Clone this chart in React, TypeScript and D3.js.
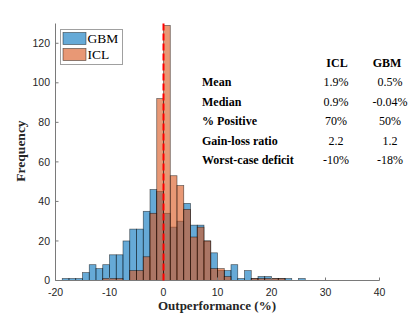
import React, { useEffect, useRef } from 'react';
import * as d3 from 'd3';

// histogram bins: left edges from -18.75 to 28.75, width 1.25
const binWidth = 1.25;
const binStarts = d3.range(-18.75, 29, binWidth);

const gbmCounts = [1, 1, 1, 4, 8, 6, 8, 13, 13, 20, 26, 26, 35, 46, 45, 34, 27, 30, 39, 28, 28, 20, 14, 5, 5, 8, 1, 5, 1, 2, 2, 1, 1, 1, 0, 1, 0, 0, 0];
const iclCounts = [0, 0, 0, 0, 0, 0, 1, 1, 1, 0, 5, 5, 12, 34, 92, 129, 53, 48, 36, 22, 27, 20, 6, 6, 2, 0, 0, 0, 1, 1, 1, 1, 1, 0, 0, 0, 0, 0, 0];

const xTicks = [-20, -10, 0, 10, 20, 30, 40];
const yTicks = [0, 20, 40, 60, 80, 100, 120];

const rowLabels = ['Mean', 'Median', '% Positive', 'Gain-loss ratio', 'Worst-case deficit'];
const iclStats = ['1.9%', '0.9%', '70%', '2.2', '-10%'];
const gbmStats = ['0.5%', '-0.04%', '50%', '1.2', '-18%'];

const serif = '"Liberation Serif", "DejaVu Serif", serif';
const sans = '"Liberation Sans", Arial, sans-serif';

const Chart = () => {
  const chartRef = useRef<HTMLDivElement>(null);

  useEffect(() => {
    const width = 419;
    const height = 315;

    const svg = d3
      .select(chartRef.current)
      .append('svg')
      .attr('width', width)
      .attr('height', height)
      .style('position', 'absolute')
      .style('left', 0)
      .style('top', 0)
      .style('background', '#fff');

    const x = d3.scaleLinear().domain([-20, 40]).range([55.5, 379.5]);
    const y = d3.scaleLinear().domain([0, 130]).range([280.5, 23.5]);

    const drawBars = (counts: number[], color: string) => {
      svg
        .append('g')
        .selectAll('rect')
        .data(counts)
        .enter()
        .append('rect')
        .attr('x', (d, i) => x(binStarts[i]))
        .attr('y', d => y(d))
        .attr('width', x(binWidth) - x(0))
        .attr('height', d => y(0) - y(d))
        .attr('fill', color)
        .attr('fill-opacity', 0.6)
        .attr('stroke', '#000')
        .attr('stroke-opacity', 0.6)
        .attr('stroke-width', 0.7);
    };

    drawBars(gbmCounts, 'rgb(0,114,189)');
    drawBars(iclCounts, 'rgb(217,83,25)');

    // axes
    const axisColor = '#7a7a7a';
    svg.append('line')
      .attr('x1', x(-20)).attr('x2', x(40))
      .attr('y1', y(0)).attr('y2', y(0))
      .attr('stroke', axisColor);
    svg.append('line')
      .attr('x1', x(-20)).attr('x2', x(-20))
      .attr('y1', y(0)).attr('y2', y(130))
      .attr('stroke', axisColor);

    svg.append('g')
      .selectAll('line')
      .data(xTicks)
      .enter()
      .append('line')
      .attr('x1', d => x(d)).attr('x2', d => x(d))
      .attr('y1', y(0)).attr('y2', y(0) - 3)
      .attr('stroke', axisColor);
    svg.append('g')
      .selectAll('text')
      .data(xTicks)
      .enter()
      .append('text')
      .attr('x', d => x(d))
      .attr('y', 295.5)
      .attr('text-anchor', 'middle')
      .attr('font-family', sans)
      .attr('font-size', 10.5)
      .attr('fill', '#262626')
      .text(d => d);

    svg.append('g')
      .selectAll('line')
      .data(yTicks)
      .enter()
      .append('line')
      .attr('x1', x(-20)).attr('x2', x(-20) + 3)
      .attr('y1', d => y(d)).attr('y2', d => y(d))
      .attr('stroke', axisColor);
    svg.append('g')
      .selectAll('text')
      .data(yTicks)
      .enter()
      .append('text')
      .attr('x', 50)
      .attr('y', d => y(d))
      .attr('dy', '0.35em')
      .attr('text-anchor', 'end')
      .attr('font-family', sans)
      .attr('font-size', 10.5)
      .attr('fill', '#262626')
      .text(d => d);

    // zero line
    svg.append('line')
      .attr('x1', x(0)).attr('x2', x(0))
      .attr('y1', y(0)).attr('y2', y(130))
      .attr('stroke', '#ff0000')
      .attr('stroke-width', 2)
      .attr('stroke-dasharray', '7,3');

    // axis labels
    svg.append('text')
      .attr('x', 217)
      .attr('y', 309.5)
      .attr('text-anchor', 'middle')
      .attr('font-family', serif)
      .attr('font-weight', 'bold')
      .attr('font-size', 13)
      .attr('fill', '#262626')
      .text('Outperformance (%)');
    svg.append('text')
      .attr('transform', 'translate(24.5,151) rotate(-90)')
      .attr('text-anchor', 'middle')
      .attr('font-family', serif)
      .attr('font-weight', 'bold')
      .attr('font-size', 13.5)
      .attr('fill', '#262626')
      .text('Frequency');

    // legend
    const legend = svg.append('g');
    legend.append('rect')
      .attr('x', 60.5).attr('y', 29.5)
      .attr('width', 62).attr('height', 35)
      .attr('fill', '#fff')
      .attr('stroke', '#a0a0a0');
    const items = [
      { name: 'GBM', color: 'rgb(0,114,189)' },
      { name: 'ICL', color: 'rgb(217,83,25)' },
    ];
    items.forEach((it, i) => {
      legend.append('rect')
        .attr('x', 63).attr('y', 32.5 + i * 16)
        .attr('width', 23).attr('height', 12)
        .attr('fill', it.color)
        .attr('fill-opacity', 0.6)
        .attr('stroke', '#000')
        .attr('stroke-opacity', 0.6)
        .attr('stroke-width', 0.7);
      legend.append('text')
        .attr('x', 87.5).attr('y', 42.5 + i * 16.5)
        .attr('font-family', serif)
        .attr('font-size', 13.5)
        .attr('fill', '#000')
        .text(it.name);
    });

    // stats table
    const table = svg.append('g')
      .attr('font-family', serif)
      .attr('font-size', 12)
      .attr('fill', '#000');
    table.append('text')
      .attr('x', 337).attr('y', 67)
      .attr('text-anchor', 'middle')
      .attr('font-weight', 'bold')
      .text('ICL');
    table.append('text')
      .attr('x', 387).attr('y', 67)
      .attr('text-anchor', 'middle')
      .attr('font-weight', 'bold')
      .text('GBM');
    rowLabels.forEach((label, i) => {
      const ry = 86 + i * 19.5;
      table.append('text')
        .attr('x', 202).attr('y', ry)
        .attr('font-weight', 'bold')
        .text(label);
      table.append('text')
        .attr('x', 336).attr('y', ry)
        .attr('text-anchor', 'middle')
        .text(iclStats[i]);
      table.append('text')
        .attr('x', 390).attr('y', ry)
        .attr('text-anchor', 'middle')
        .text(gbmStats[i]);
    });

    return () => {
      svg.remove();
    };
  }, []);

  return <div ref={chartRef}></div>;
};

export default function App() {
  return <Chart />;
}
